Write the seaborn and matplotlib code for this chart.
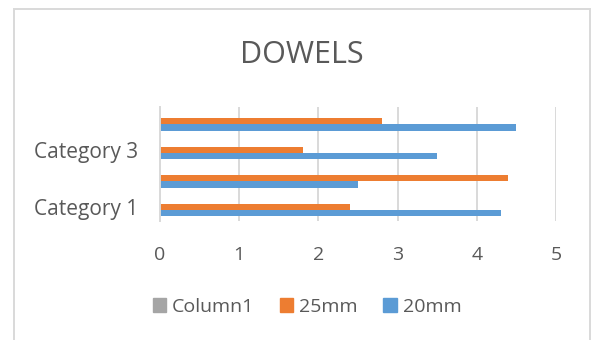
import matplotlib
matplotlib.use('Agg')
import matplotlib.pyplot as plt
from matplotlib.patches import Rectangle
import pandas as pd
import seaborn as sns

categories = ['Category 1', 'Category 2', 'Category 3', 'Category 4']
mm20 = [4.3, 2.5, 3.5, 4.5]
mm25 = [2.4, 4.4, 1.8, 2.8]
column1 = [0, 0, 0, 0]
series = ['Column1', '25mm', '20mm']
colors = ['#A5A5A5', '#ED7D31', '#5B9BD5']
shown_labels = ['Category 1', 'Category 3']
xticks = [0, 1, 2, 3, 4, 5]

df = pd.DataFrame({
    'category': categories * 3,
    'value': column1 + mm25 + mm20,
    'series': [s for s in series for _ in categories],
})

sns.set_style('white')
plt.rcParams['font.family'] = ['Open Sans', 'DejaVu Sans']
text_color = '#595959'
grid_color = '#D9D9D9'

fig = plt.figure(figsize=(5.93, 3.40), dpi=100)
ax = fig.add_axes([160 / 593, 1 - 221 / 340, 396 / 593, 114 / 340])

# Excel draws the first category at the bottom, seaborn at the top
order = categories[::-1]
sns.barplot(data=df, y='category', x='value', hue='series', order=order,
            hue_order=series, palette=colors, width=0.667, saturation=1,
            errorbar=None, linewidth=0, orient='h', ax=ax)
ax.get_legend().remove()

ax.set_xlim(0, 5)
ax.set_xticks(xticks)
ax.set_yticks(range(len(order)))
ax.set_yticklabels([c if c in shown_labels else '' for c in order])
ax.set_xlabel('')
ax.set_ylabel('')
ax.grid(axis='x', color=grid_color, linewidth=1.4)
ax.set_axisbelow(True)
for side in ['top', 'right', 'bottom']:
    ax.spines[side].set_visible(False)
ax.spines['left'].set_color(grid_color)
ax.spines['left'].set_linewidth(1.4)
ax.tick_params(axis='both', length=0, colors=text_color)
ax.tick_params(axis='x', pad=18, labelsize=14)
ax.tick_params(axis='y', pad=16, labelsize=15)

fig.text(302 / 593, 1 - 63 / 340, 'DOWELS', ha='center', va='baseline',
         fontsize=22, color=text_color)

handles = [Rectangle((0, 0), 1, 1, color=c) for c in colors]
fig.legend(handles, series, loc='center', bbox_to_anchor=(307 / 593, 0.097),
           ncol=3, frameon=False, fontsize=14, handlelength=0.7,
           handleheight=0.7, handletextpad=0.3, columnspacing=1.3,
           labelcolor=text_color)

fig.add_artist(Rectangle((14 / 593, -0.05), 576 / 593, 1.05 - 9 / 340,
                         transform=fig.transFigure, fill=False,
                         edgecolor=grid_color, linewidth=1.4))

fig.savefig('out.png', dpi=100)
